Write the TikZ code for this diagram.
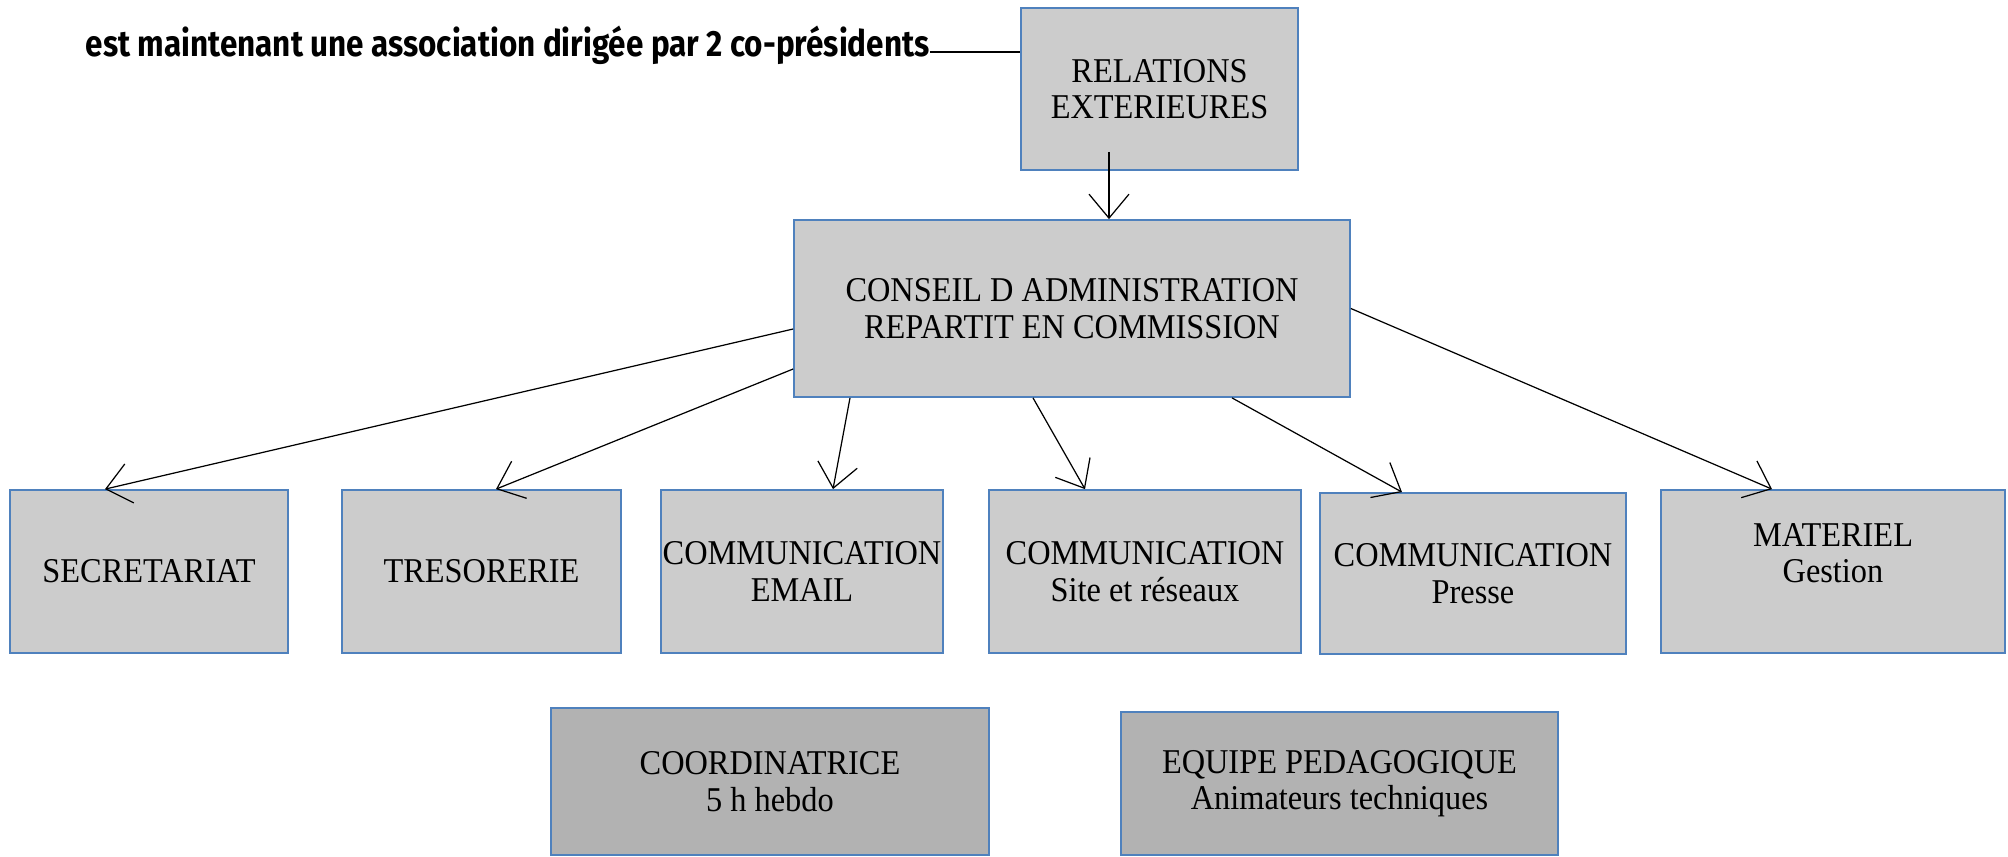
\documentclass[tikz,border=0pt]{standalone}
\usepackage{fontspec}
\setmainfont[FakeStretch=0.93]{Liberation Serif}
\newfontfamily\introfont[FakeStretch=0.86]{Fira Sans}
\usetikzlibrary{arrows.meta}
\definecolor{boxgray}{RGB}{204,204,204}
\definecolor{coordgray}{RGB}{178,178,178}
\definecolor{boxline}{RGB}{79,129,189}
\tikzset{
  pole/.style={draw=boxline, fill=boxgray, line width=0.5pt, inner sep=0pt, align=center,
    font=\fontsize{9.9}{10.4}\selectfont},
  link/.style={-{Straight Barb[length=0.24cm,width=0.4cm]}, line width=0.35pt},
}
\begin{document}
\begin{tikzpicture}
  \useasboundingbox (0,0) rectangle (20.08,-8.57);
  % heading line, tied to the box on its right
  \node[anchor=base west, inner sep=0pt, font=\introfont\bfseries\fontsize{10.4}{12}\selectfont]
    (intro) at (0.85,-0.56) {est maintenant une association dirigée par 2 co-présidents};
  \node[pole, minimum width=2.77cm, minimum height=1.62cm] (rel) at (11.595,-0.89) {RELATIONS\\EXTERIEURES};
  \node[pole, minimum width=5.56cm, minimum height=1.77cm] (con) at (10.72,-3.085)
    {CONSEIL D ADMINISTRATION\\REPARTIT EN COMMISSION};
  \coordinate (hook) at ([yshift=0.04cm]intro.base east);
  \draw[line width=0.35pt] (hook) -- (hook -| rel.west);
  \draw[link] ([xshift=-0.505cm,yshift=0.19cm]rel.south) -- ([xshift=0.37cm]con.north);
  % the commissions
  \foreach \nm/\xc/\bw/\txt in {sec/1.49/2.78/SECRETARIAT, tre/4.815/2.79/TRESORERIE,
      mail/8.02/2.82/{COMMUNICATION\\EMAIL}, site/11.45/3.12/{COMMUNICATION\\Site et réseaux},
      mat/18.33/3.44/{MATERIEL\\Gestion\\\mbox{}}} {
    \node[pole, minimum width=\bw cm, minimum height=1.63cm] (\nm) at (\xc,-5.715) {\txt};
  }
  \node[pole, minimum width=3.06cm, minimum height=1.61cm] (presse) at (14.73,-5.735) {COMMUNICATION\\Presse};
  % links from the council
  \draw[link] ([yshift=-0.205cm]con.west) -- ([xshift=-0.44cm]sec.north);
  \draw[link] ([yshift=-0.605cm]con.west) -- ([xshift=0.145cm]tre.north);
  \foreach \from/\to/\dx in {-2.22/mail/0.31, -0.39/site/-0.6, 1.6/presse/-0.71} {
    \draw[link] ([xshift=\from cm]con.south) -- ([xshift=\dx cm]\to.north);
  }
  \draw[link] (con.east) -- ([xshift=-0.61cm]mat.north);
  % staff
  \node[pole, fill=coordgray, minimum width=4.38cm, minimum height=1.47cm] (coord) at (7.70,-7.815)
    {COORDINATRICE\\5 h hebdo};
  \node[pole, fill=coordgray, minimum width=4.37cm, minimum height=1.43cm] (equipe) at (13.395,-7.835)
    {EQUIPE PEDAGOGIQUE\\Animateurs techniques};
\end{tikzpicture}
\end{document}
